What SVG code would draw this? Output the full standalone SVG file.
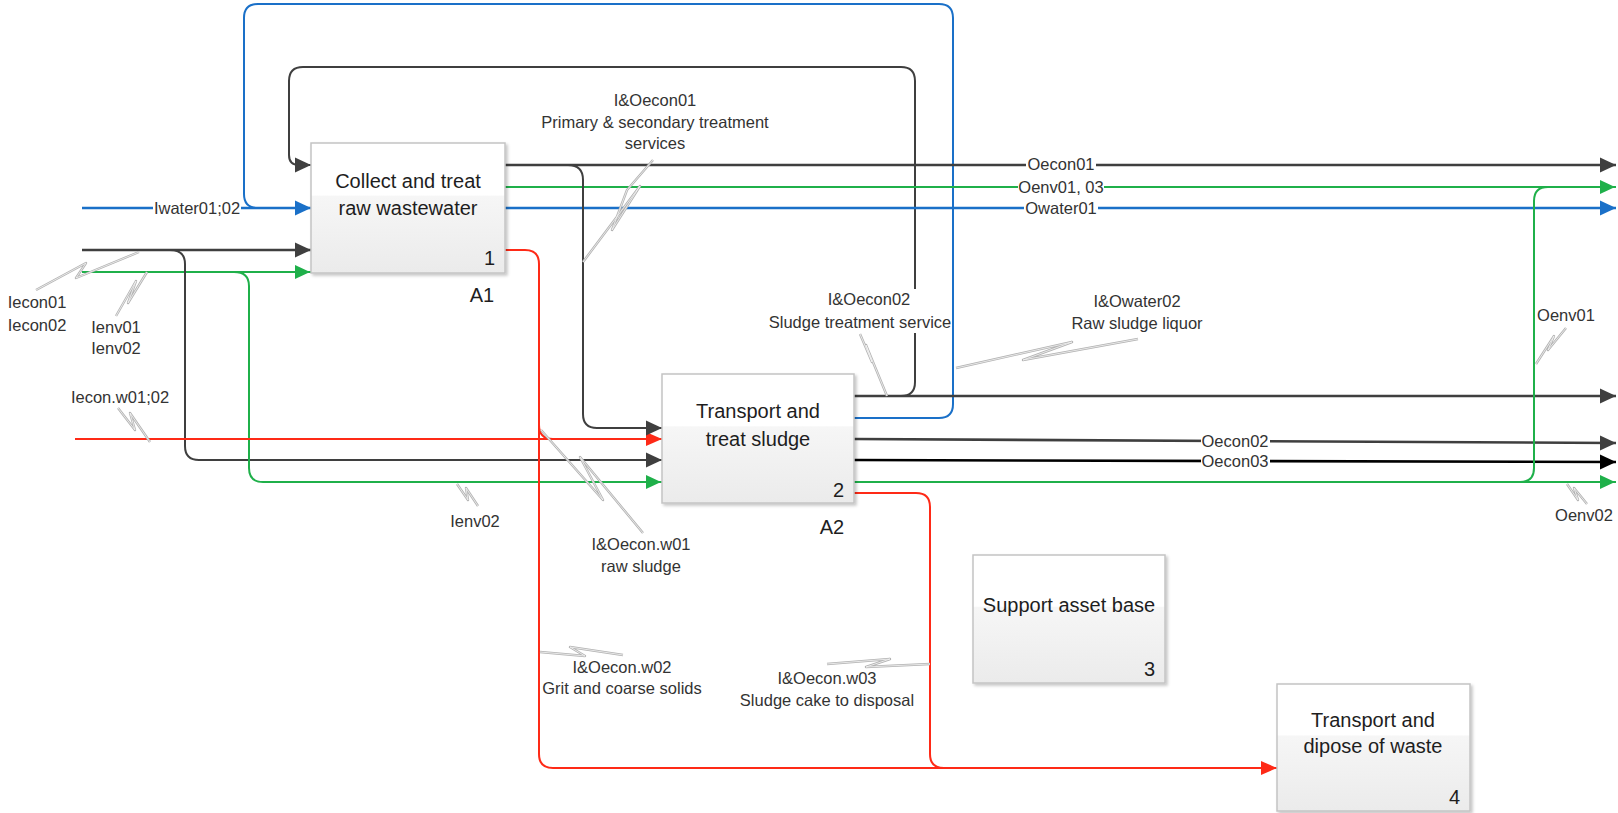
<svg xmlns="http://www.w3.org/2000/svg" width="1618" height="813" viewBox="0 0 1618 813">
<style>
.ln{fill:none;stroke-linejoin:round}
.dk{stroke:#3f3f3f;stroke-width:2.6}
.dk2{stroke:#3f3f3f;stroke-width:2}
.bk{stroke:#000;stroke-width:2.6}
.bl{stroke:#1a70c8;stroke-width:2.6}
.bl2{stroke:#1a70c8;stroke-width:2}
.gr{stroke:#1fb04a;stroke-width:2}
.rd{stroke:#fe2a17;stroke-width:2}
.box{fill:url(#bg);stroke:#c4c4c4;stroke-width:1.5;filter:url(#sh)}
.nt{font-family:"Liberation Sans",Arial,sans-serif;font-size:20px;fill:#1e1e1e;text-anchor:middle}
.nn{font-family:"Liberation Sans",Arial,sans-serif;font-size:20px;fill:#1e1e1e;text-anchor:end}
.lb{font-family:"Liberation Sans",Arial,sans-serif;font-size:16.5px;fill:#333;text-anchor:middle}
.lbg{fill:#fff}
.sqo{fill:none;stroke:#b3b3b3;stroke-width:2.4;stroke-linejoin:round}
.sqi{fill:none;stroke:#f5f5f5;stroke-width:0.8;stroke-linejoin:round}
</style>
<defs>
<linearGradient id="bg" x1="0" y1="0" x2="0" y2="1">
<stop offset="0" stop-color="#ffffff"/>
<stop offset="0.4" stop-color="#ffffff"/>
<stop offset="0.41" stop-color="#f6f6f6"/>
<stop offset="1" stop-color="#ebebeb"/>
</linearGradient>
<filter id="sh" x="-10%" y="-10%" width="125%" height="125%">
<feDropShadow dx="2" dy="2" stdDeviation="1.5" flood-color="#000" flood-opacity="0.22"/>
</filter>
<marker id="aDk" markerUnits="userSpaceOnUse" markerWidth="16" markerHeight="16" viewBox="0 0 16 16" refX="16" refY="8" orient="auto"><path d="M0,0.5 L16,8 L0,15.5 Z" fill="#3f3f3f"/></marker>
<marker id="aBk" markerUnits="userSpaceOnUse" markerWidth="16" markerHeight="16" viewBox="0 0 16 16" refX="16" refY="8" orient="auto"><path d="M0,0.5 L16,8 L0,15.5 Z" fill="#000"/></marker>
<marker id="aBl" markerUnits="userSpaceOnUse" markerWidth="16" markerHeight="16" viewBox="0 0 16 16" refX="16" refY="8" orient="auto"><path d="M0,0.5 L16,8 L0,15.5 Z" fill="#1a70c8"/></marker>
<marker id="aGr" markerUnits="userSpaceOnUse" markerWidth="16" markerHeight="16" viewBox="0 0 16 16" refX="16" refY="8" orient="auto"><path d="M0,1 L15,8 L0,15 Z" fill="#1fb04a"/></marker>
<marker id="aRd" markerUnits="userSpaceOnUse" markerWidth="16" markerHeight="16" viewBox="0 0 16 16" refX="16" refY="8" orient="auto"><path d="M0,1 L16,8 L0,15 Z" fill="#fe2a17"/></marker>
</defs>
<rect width="1618" height="813" fill="#fff"/>

<g id="connectors">
<!-- loops -->
<path class="ln bl2" d="M854,418 H939 Q953,418 953,404 V18 Q953,4 939,4 H258 Q244,4 244,18 V194 Q244,208 258,208"/>
<path class="ln dk2" d="M854,396 H901 Q915,396 915,382 V81 Q915,67 901,67 H303 Q289,67 289,81 V155 Q289,165 299,165 H311" marker-end="url(#aDk)"/>
<!-- A1 inputs -->
<path class="ln bl" d="M82,208 H311" marker-end="url(#aBl)"/>
<path class="ln dk" d="M82,250 H311" marker-end="url(#aDk)"/>
<path class="ln gr" d="M82,272 H311" marker-end="url(#aGr)"/>
<!-- branches to A2 inputs -->
<path class="ln dk2" d="M170,250 Q185,250 185,264 V446 Q185,460 199,460 H662" marker-end="url(#aDk)"/>
<path class="ln gr" d="M234,272 Q249,272 249,286 V468 Q249,482 263,482 H662" marker-end="url(#aGr)"/>
<path class="ln rd" d="M75,439 H662" marker-end="url(#aRd)"/>
<!-- A1 outputs -->
<path class="ln dk" d="M505,165 H1616" marker-end="url(#aDk)"/>
<path class="ln gr" d="M505,187 H1616" marker-end="url(#aGr)"/>
<path class="ln bl" d="M505,208 H1616" marker-end="url(#aBl)"/>
<path class="ln dk2" d="M568,165 Q583,165 583,180 V414 Q583,428 597,428 H662" marker-end="url(#aDk)"/>
<path class="ln rd" d="M505,250 H525 Q539,250 539,264 V754 Q539,768 553,768 H1277" marker-end="url(#aRd)"/>
<path class="ln rd" d="M539,425 Q539,439 553,439"/>
<!-- A2 outputs -->
<path class="ln dk" d="M854,396 H1616" marker-end="url(#aDk)"/>
<path class="ln dk" d="M854,439 L1616,443" marker-end="url(#aDk)"/>
<path class="ln bk" d="M854,460 L1616,462" marker-end="url(#aBk)"/>
<path class="ln gr" d="M854,482 H1616" marker-end="url(#aGr)"/>
<path class="ln gr" d="M1520,482 Q1534,482 1534,468 V201 Q1534,187 1548,187"/>
<path class="ln rd" d="M854,493 H916 Q930,493 930,507 V754 Q930,768 944,768"/>
</g>

<g id="leaders">
<path class="sqo" d="M36,290 L86,263 L76,278 L139,252"/><path class="sqi" d="M36,290 L86,263 L76,278 L139,252"/>
<path class="sqo" d="M116,316 L136,281 L128,303 L147,272"/><path class="sqi" d="M116,316 L136,281 L128,303 L147,272"/>
<path class="sqo" d="M118,408 L135,430 L130,413 L150,442"/><path class="sqi" d="M118,408 L135,430 L130,413 L150,442"/>
<path class="sqo" d="M653,160 L627,190 L612,230 L640,186 L583,262"/><path class="sqi" d="M653,160 L627,190 L612,230 L640,186 L583,262"/>
<path class="sqo" d="M860,334 L872,362 L866,345 L887,396"/><path class="sqi" d="M860,334 L872,362 L866,345 L887,396"/>
<path class="sqo" d="M1138,339 L1023,360 L1072,342 L956,368"/><path class="sqi" d="M1138,339 L1023,360 L1072,342 L956,368"/>
<path class="sqo" d="M1566,328 L1548,350 L1554,336 L1536,364"/><path class="sqi" d="M1566,328 L1548,350 L1554,336 L1536,364"/>
<path class="sqo" d="M1567,484 L1578,500 L1574,488 L1587,504"/><path class="sqi" d="M1567,484 L1578,500 L1574,488 L1587,504"/>
<path class="sqo" d="M457,484 L468,500 L466,488 L478,506"/><path class="sqi" d="M457,484 L468,500 L466,488 L478,506"/>
<path class="sqo" d="M541,430 L603,500 L580,457 L643,533"/><path class="sqi" d="M541,430 L603,500 L580,457 L643,533"/>
<path class="sqo" d="M540,652 L585,656 L570,647 L623,655"/><path class="sqi" d="M540,652 L585,656 L570,647 L623,655"/>
<path class="sqo" d="M827,664 L890,659 L866,667 L930,664"/><path class="sqi" d="M827,664 L890,659 L866,667 L930,664"/>
</g>

<g id="labels">
<rect class="lbg" x="153" y="199" width="88" height="18"/>
<text class="lb" x="197" y="214">Iwater01;02</text>
<rect class="lbg" x="1026" y="156" width="70" height="17"/>
<text class="lb" x="1061" y="170">Oecon01</text>
<rect class="lbg" x="1018" y="179" width="86" height="16"/>
<text class="lb" x="1061" y="193">Oenv01, 03</text>
<rect class="lbg" x="1024" y="200" width="74" height="17"/>
<text class="lb" x="1061" y="214">Owater01</text>
<rect class="lbg" x="1201" y="432" width="69" height="18"/>
<text class="lb" x="1235" y="447">Oecon02</text>
<rect class="lbg" x="1201" y="452" width="69" height="18"/>
<text class="lb" x="1235" y="467">Oecon03</text>
<text class="lb" x="655" y="106">I&amp;Oecon01</text>
<text class="lb" x="655" y="128">Primary &amp; secondary treatment</text>
<text class="lb" x="655" y="149">services</text>
<text class="lb" x="37" y="308">Iecon01</text>
<text class="lb" x="37" y="331">Iecon02</text>
<text class="lb" x="116" y="333">Ienv01</text>
<text class="lb" x="116" y="354">Ienv02</text>
<text class="lb" x="120" y="403">Iecon.w01;02</text>
<rect class="lbg" x="766" y="289" width="185" height="44"/>
<text class="lb" x="869" y="305">I&amp;Oecon02</text>
<text class="lb" x="860" y="328">Sludge treatment service</text>
<text class="lb" x="1137" y="307">I&amp;Owater02</text>
<text class="lb" x="1137" y="329">Raw sludge liquor</text>
<text class="lb" x="1566" y="321">Oenv01</text>
<text class="lb" x="1584" y="521">Oenv02</text>
<text class="lb" x="475" y="527">Ienv02</text>
<text class="lb" x="641" y="550">I&amp;Oecon.w01</text>
<text class="lb" x="641" y="572">raw sludge</text>
<text class="lb" x="622" y="673">I&amp;Oecon.w02</text>
<text class="lb" x="622" y="694">Grit and coarse solids</text>
<text class="lb" x="827" y="684">I&amp;Oecon.w03</text>
<text class="lb" x="827" y="706">Sludge cake to disposal</text>
</g>

<g id="node-A1">
<rect class="box" x="311" y="143" width="194" height="130"/>
<text class="nt" x="408" y="188">Collect and treat</text>
<text class="nt" x="408" y="215">raw wastewater</text>
<text class="nn" x="495" y="265">1</text>
<text class="nt" x="482" y="302">A1</text>
</g>
<g id="node-A2">
<rect class="box" x="662" y="374" width="192" height="129"/>
<text class="nt" x="758" y="418">Transport and</text>
<text class="nt" x="758" y="446">treat sludge</text>
<text class="nn" x="844" y="497">2</text>
<text class="nt" x="832" y="534">A2</text>
</g>
<g id="node-3">
<rect class="box" x="973" y="555" width="192" height="128"/>
<text class="nt" x="1069" y="612">Support asset base</text>
<text class="nn" x="1155" y="676">3</text>
</g>
<g id="node-4">
<rect class="box" x="1277" y="684" width="193" height="127"/>
<text class="nt" x="1373" y="727">Transport and</text>
<text class="nt" x="1373" y="753">dipose of waste</text>
<text class="nn" x="1460" y="804">4</text>
</g>
</svg>
